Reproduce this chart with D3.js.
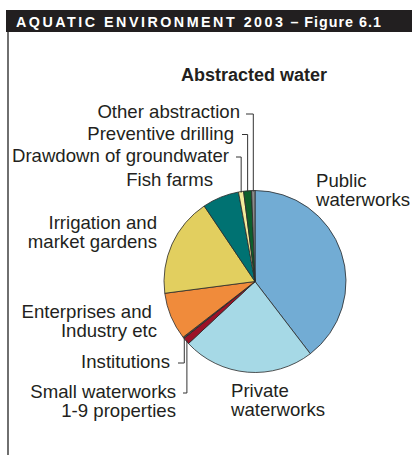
<!DOCTYPE html>
<html><head><meta charset="utf-8">
<script src="https://cdn.jsdelivr.net/npm/d3@7"></script>
<style>
html,body{margin:0;padding:0;background:#fff;}
svg{display:block;font-family:"Liberation Sans",Arial,Helvetica,sans-serif;}
</style></head>
<body>
<svg id="chart" width="412" height="455"></svg>
<script>
const categories = ["Public waterworks","Private waterworks","Small waterworks 1-9 properties","Institutions","Enterprises and Industry etc","Irrigation and market gardens","Fish farms","Drawdown of groundwater","Preventive drilling","Other abstraction"];
const values = [39.5, 23.4, 1.2, 0.25, 8.4, 17.6, 6.5, 0.9, 1.4, 0.6];
const colors = ["#72acd4","#a6d9e6","#9c1228","#4a4a4a","#f08b3b","#e2cf5f","#007272","#f3ec9b","#0d5f2c","#8a8a8a"];
const labelLines = [["Public","waterworks"],["Private","waterworks"],["Small waterworks","1-9 properties"],["Institutions"],["Enterprises and ","Industry etc"],["Irrigation and","market gardens"],["Fish farms"],["Drawdown of groundwater"],["Preventive drilling"],["Other abstraction"]];
const headerText = "AQUATIC ENVIRONMENT 2003";
const headerText2 = " – Figure 6.1";
const chartTitle = "Abstracted water";

// layout
const cx = 255, cy = 281.5, R = 91;
const labelLayout = [
  {x:316, y:187, anchor:"start"},
  {x:231, y:397, anchor:"start"},
  {x:176, y:398, anchor:"end", leader:{hy:393, hx0:183}},
  {x:170, y:368, anchor:"end", leader:{hy:363, hx0:178}},
  {x:157, y:318, anchor:"end"},
  {x:157, y:229, anchor:"end"},
  {x:213, y:186, anchor:"end"},
  {x:229, y:162, anchor:"end", leader:{hy:157, hx0:236}},
  {x:234, y:140, anchor:"end", leader:{hy:134.5, hx0:242}},
  {x:240, y:118, anchor:"end", leader:{hy:114, hx0:246}}
];
const lineH = 18.7;

const svg = d3.select("#chart");

// header band
svg.append("rect").attr("x",6).attr("y",10).attr("width",406).attr("height",22).attr("fill","#221f20");
const ht = svg.append("text").attr("x",16).attr("y",27).attr("fill","#fff")
  .attr("font-weight","bold").attr("font-size",14.3);
ht.append("tspan").attr("letter-spacing",2.5).text(headerText);
ht.append("tspan").attr("letter-spacing",1.0).text(headerText2);

// left border
svg.append("line").attr("x1",8).attr("x2",8).attr("y1",32).attr("y2",455)
  .attr("stroke","#333").attr("stroke-width",1.4);

// chart title
svg.append("text").attr("x",254).attr("y",81).attr("text-anchor","middle")
  .attr("font-weight","bold").attr("font-size",18).attr("fill","#231f20").text(chartTitle);

const data = categories.map((c,i)=>({name:c, value:values[i], color:colors[i], lines:labelLines[i], lay:labelLayout[i]}));
const pie = d3.pie().sort(null).value(d=>d.value).startAngle(0).endAngle(2*Math.PI);
const arcs = pie(data);
const arc = d3.arc().innerRadius(0).outerRadius(R);

const g = svg.append("g").attr("transform",`translate(${cx},${cy})`);
g.selectAll("path").data(arcs).join("path")
  .attr("d",arc).attr("fill",d=>d.data.color)
  .attr("stroke","#2a2a2a").attr("stroke-width",0.8).attr("stroke-linejoin","round");

// leader lines
arcs.forEach(a=>{
  const L = a.data.lay.leader;
  if(!L) return;
  const mid = (a.startAngle+a.endAngle)/2;
  const px = cx + (R-1)*Math.sin(mid);
  const py = cy - (R-1)*Math.cos(mid);
  svg.append("path")
    .attr("d",`M${L.hx0},${L.hy}H${px}V${py}`)
    .attr("fill","none").attr("stroke","#333").attr("stroke-width",1);
});

// labels: one text element per line
arcs.forEach(a=>{
  const lay = a.data.lay;
  a.data.lines.forEach((ln,i)=>{
    svg.append("text").attr("x",lay.x).attr("y",lay.y + i*lineH)
      .attr("text-anchor",lay.anchor).attr("font-size",18.6).attr("fill","#231f20")
      .style("white-space","pre").text(ln);
  });
});
</script>
</body></html>
